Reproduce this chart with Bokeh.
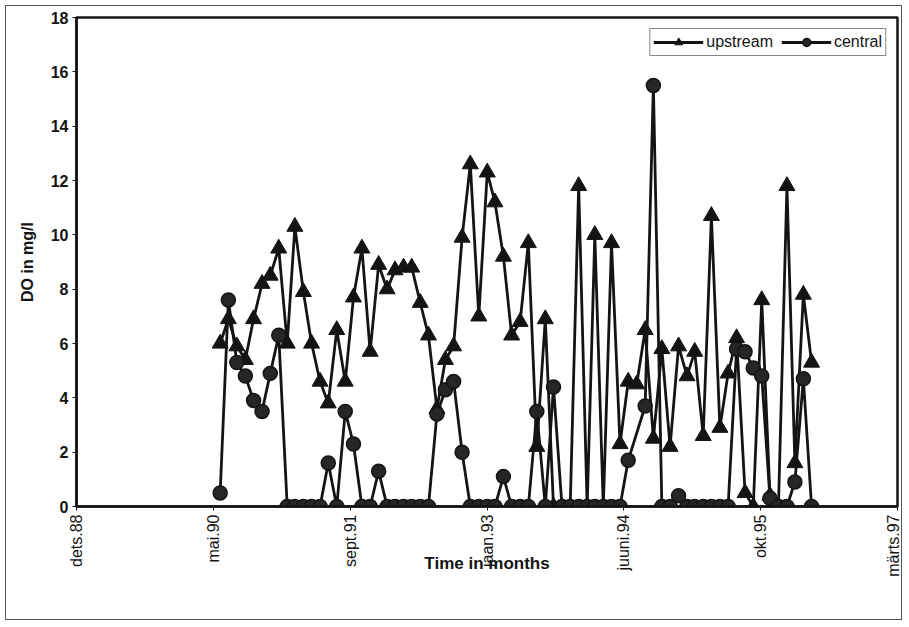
import math
import pandas as pd
from bokeh.plotting import figure
from bokeh.models import Range1d, FixedTicker, Legend, LegendItem
from bokeh.embed import file_html
from bokeh.resources import INLINE

# monthly sampling dates, June 1990 .. May 1996
months = list(pd.date_range("1990-06-01", periods=72, freq="MS"))

upstream = [6.0, 6.9, 5.9, 5.4, 6.9, 8.2, 8.5, 9.5, 6.0, 10.3,
            7.9, 6.0, 4.6, 3.8, 6.5, 4.6, 7.7, 9.5, 5.7, 8.9,
            8.0, 8.7, 8.8, 8.8, 7.5, 6.3, 3.6, 5.4, 5.9, 9.9,
            12.6, 7.0, 12.3, 11.2, 9.2, 6.3, 6.8, 9.7, 2.2, 6.9,
            0.0, 0.0, 0.0, 11.8, 0.0, 10.0, 0.0, 9.7, 2.3, 4.6,
            4.5, 6.5, 2.5, 5.8, 2.2, 5.9, 4.8, 5.7, 2.6, 10.7,
            2.9, 4.9, 6.2, 0.5, 0.0, 7.6, 0.4, 0.0, 11.8, 1.6,
            7.8, 5.3]

central = [0.5, 7.6, 5.3, 4.8, 3.9, 3.5, 4.9, 6.3, 0.0, 0.0,
           0.0, 0.0, 0.0, 1.6, 0.0, 3.5, 2.3, 0.0, 0.0, 1.3,
           0.0, 0.0, 0.0, 0.0, 0.0, 0.0, 3.4, 4.3, 4.6, 2.0,
           0.0, 0.0, 0.0, 0.0, 1.1, 0.0, 0.0, 0.0, 3.5, 0.0,
           4.4, 0.0, 0.0, 0.0, 0.0, 0.0, 0.0, 0.0, 0.0, 1.7,
           None, 3.7, 15.5, 0.0, 0.0, 0.4, 0.0, 0.0, 0.0, 0.0,
           0.0, 0.0, 5.8, 5.7, 5.1, 4.8, 0.3, 0.0, 0.0, 0.9,
           4.7, 0.0]

tick_dates = ["1988-12-23", "1990-05-07", "1991-09-19", "1993-01-31",
              "1994-06-15", "1995-10-28", "1997-03-11"]
tick_labels = ["dets.88", "mai.90", "sept.91", "jaan.93", "juuni.94",
               "okt.95", "märts.97"]
y_ticks = [0, 2, 4, 6, 8, 10, 12, 14, 16, 18]

cen_x = [m for m, v in zip(months, central) if v is not None]
cen_y = [v for v in central if v is not None]
tick_ms = [pd.Timestamp(d).value / 1e6 for d in tick_dates]

FONT = "Liberation Sans"
INK = "#141414"

p = figure(width=897, height=615, x_axis_type="datetime",
           output_backend="svg", toolbar_location=None,
           x_range=Range1d(tick_ms[0], tick_ms[-1]), y_range=Range1d(0, 18),
           min_border_left=70, min_border_right=6, min_border_top=11,
           min_border_bottom=115)
p.styles = {"margin": "5px", "border": "1px solid #555"}

l1 = p.line(months, upstream, line_color=INK, line_width=2.8)
s1 = p.scatter(months, upstream, marker="triangle", size=16,
               fill_color=INK, line_color=INK)
l2 = p.line(cen_x, cen_y, line_color=INK, line_width=2.8)
s2 = p.scatter(cen_x, cen_y, marker="circle", size=14,
               fill_color="#262626", line_color=INK, line_width=1.5)

p.xgrid.visible = False
p.ygrid.visible = False
p.outline_line_color = INK
p.outline_line_width = 2.5

for ax in (p.xaxis[0], p.yaxis[0]):
    ax.axis_line_color = INK
    ax.axis_line_width = 2.5
    ax.major_tick_line_color = INK
    ax.major_tick_out = 4
    ax.major_tick_in = 0
    ax.minor_tick_line_color = None
    ax.major_label_text_font = FONT
    ax.axis_label_text_font = FONT
    ax.axis_label_text_font_style = "bold"
    ax.major_label_text_color = INK
    ax.axis_label_text_color = INK

p.xaxis.ticker = FixedTicker(ticks=tick_ms)
p.xaxis.major_label_overrides = {t: l for t, l in zip(tick_ms, tick_labels)}
p.xaxis.major_label_orientation = math.pi / 2
p.xaxis.major_label_text_font_size = "16px"
p.xaxis.major_label_standoff = 4
p.xaxis.axis_label = "Time in months"
p.xaxis.axis_label_text_font_size = "17px"
p.xaxis.axis_label_standoff = -26

p.yaxis.ticker = FixedTicker(ticks=y_ticks)
p.yaxis.major_label_text_font_size = "16px"
p.yaxis.major_label_text_font_style = "bold"
p.yaxis.major_label_standoff = 4
p.yaxis.axis_label = "DO in mg/l"
p.yaxis.axis_label_text_font_size = "16px"
p.yaxis.axis_label_standoff = 12

legend = Legend(items=[LegendItem(label="upstream", renderers=[l1, s1]),
                       LegendItem(label="central", renderers=[l2, s2])],
                orientation="horizontal", location="top_right")
legend.margin = 11
legend.padding = 3
legend.spacing = 8
legend.glyph_width = 50
legend.glyph_height = 20
legend.label_standoff = 3
legend.label_text_font = FONT
legend.label_text_font_size = "16px"
legend.label_text_color = INK
legend.border_line_color = INK
legend.border_line_width = 1.2
legend.background_fill_color = "white"
p.add_layout(legend)

open("out.html", "w").write(file_html(p, INLINE))
